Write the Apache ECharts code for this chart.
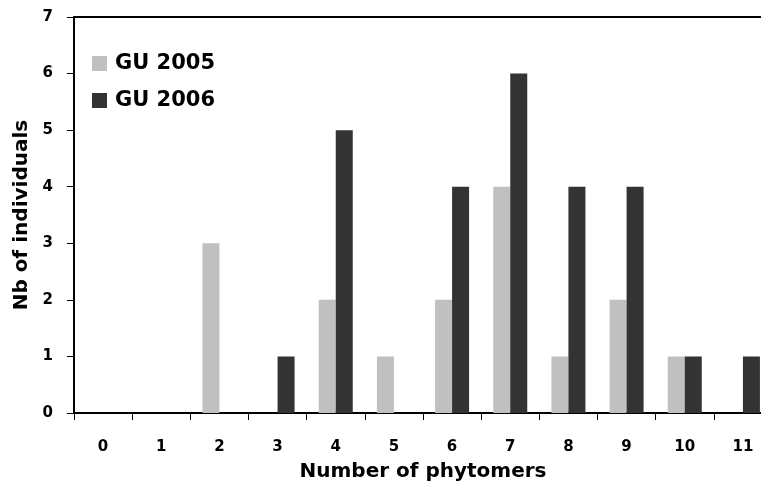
<!DOCTYPE html>
<html>
<head>
<meta charset="utf-8">
<script src="https://cdn.jsdelivr.net/npm/echarts@6/dist/echarts.min.js"></script>
<style>
html,body{margin:0;padding:0;background:#fff;overflow:hidden;}
#chart{width:761px;height:487px;}
</style>
</head>
<body>
<div id="chart"></div>
<script>
// Distribution of growth units by number of phytomers
const categories = ['0','1','2','3','4','5','6','7','8','9','10','11'];
const gu2005 = [0, 0, 3, 0, 2, 1, 2, 4, 1, 2, 1, 0];
const gu2006 = [0, 0, 0, 1, 5, 0, 4, 6, 4, 4, 1, 1];
const yTicks = [0, 1, 2, 3, 4, 5, 6, 7];

const font = '"DejaVu Sans", Arial, sans-serif';
const chart = echarts.init(document.getElementById('chart'));
chart.setOption({
  animation: false,
  backgroundColor: '#fff',
  // the last category runs slightly past the right edge of the canvas
  grid: { left: 74, top: 17, width: 698, height: 396, containLabel: false, outerBoundsMode: 'none' },
  legend: {
    left: 92, top: 53, orient: 'vertical', padding: 0,
    itemWidth: 15, itemHeight: 15, itemGap: 16,
    icon: 'rect',
    textStyle: { fontFamily: font, fontWeight: 'bold', fontSize: 21, color: '#000', padding: [0,0,0,3] },
    data: ['GU 2005', 'GU 2006']
  },
  xAxis: [{
    type: 'category', data: categories,
    name: 'Number of phytomers', nameLocation: 'middle', nameGap: 49,
    nameTextStyle: { fontFamily: font, fontWeight: 'bold', fontSize: 20, color: '#000' },
    axisLine: { lineStyle: { color: '#000', width: 2 } },
    axisTick: { show: true, length: 7, lineStyle: { color: '#000', width: 1 } },
    axisLabel: { fontFamily: font, fontWeight: 'bold', fontSize: 15, color: '#000', margin: 27 }
  }, {
    type: 'category', data: categories, position: 'top',
    axisLine: { show: true, lineStyle: { color: '#000', width: 2 } },
    axisTick: { show: false }, axisLabel: { show: false }
  }],
  yAxis: {
    type: 'value', min: 0, max: 7, interval: 1,
    name: 'Nb of individuals', nameLocation: 'middle', nameGap: 38, nameRotate: 90,
    nameTextStyle: { fontFamily: font, fontWeight: 'bold', fontSize: 20, color: '#000' },
    axisLine: { show: true, lineStyle: { color: '#000', width: 2 } },
    axisTick: { show: true, length: 7, lineStyle: { color: '#000', width: 1 } },
    axisLabel: { fontFamily: font, fontWeight: 'bold', fontSize: 15, color: '#000', margin: 21,
      formatter: v => yTicks.includes(v) ? String(v) : '' },
    splitLine: { show: false }
  },
  series: [
    { name: 'GU 2005', type: 'bar', data: gu2005, barWidth: 17, barGap: '0%',
      itemStyle: { color: '#c0c0c0' } },
    { name: 'GU 2006', type: 'bar', data: gu2006, barWidth: 17, barGap: '0%',
      itemStyle: { color: '#333333' } }
  ]
});
</script>
</body>
</html>
